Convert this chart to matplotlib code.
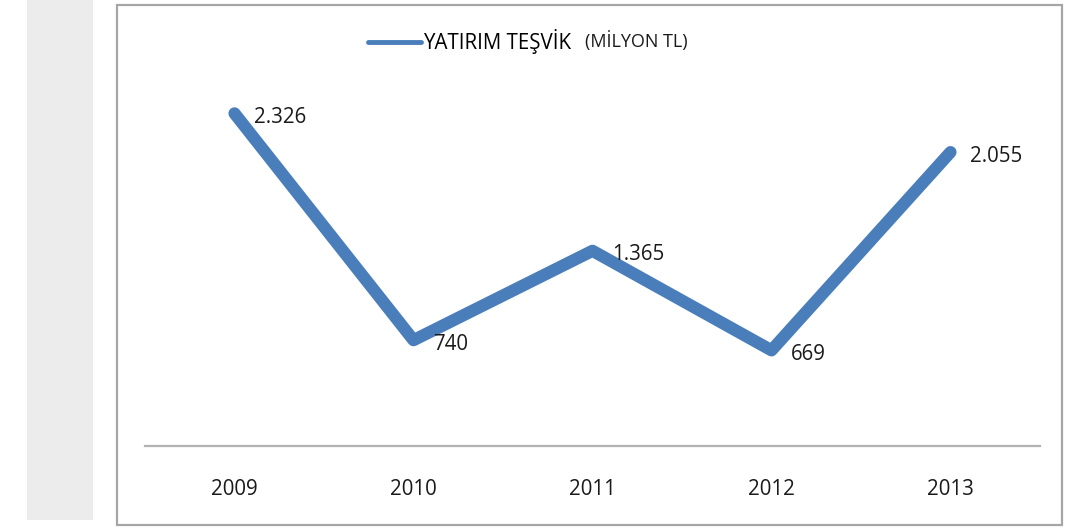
#!/usr/bin/env python3
# yatirim tesvik line chart, 2009-2013
import matplotlib
matplotlib.use("Agg")
import matplotlib.pyplot as plt
from matplotlib.patches import Rectangle

years = ["2009", "2010", "2011", "2012", "2013"]
tesvik = [2326, 740, 1365, 669, 2055]
value_labels = ["2.326", "740", "1.365", "669", "2.055"]
series_name = "YATIRIM TEŞVİK"
unit_name = "(MİLYON TL)"

plt.rcParams['font.family'] = ['Open Sans', 'DejaVu Sans']
blue = '#4a7ebb'
txt = '#1a1a1a'

fig = plt.figure(figsize=(10.66, 5.28), dpi=100)
W, H = 1066.0, 528.0

# grey strip on the left and the chart frame
fig.patches.append(Rectangle((27 / W, 1 - 520 / H), 66 / W, 520 / H,
                             transform=fig.transFigure, facecolor='#ececec',
                             edgecolor='none', zorder=-2))
fig.patches.append(Rectangle((117 / W, 1 - 525 / H), 945 / W, 520 / H,
                             transform=fig.transFigure, facecolor='white',
                             edgecolor='#a6a6a6', linewidth=1.6, zorder=-1))

ax = fig.add_axes([145 / W, 1 - 446 / H, 895 / W, 415 / H])
ax.set_zorder(2)
ax.patch.set_alpha(0)
x = list(range(len(years)))
ax.plot(x, tesvik, color=blue, linewidth=8.8, solid_capstyle='round',
        solid_joinstyle='round', label=series_name)

for xi, v, lab in zip(x, tesvik, value_labels):
    ax.annotate(lab, (xi, v), xytext=(14, -3), textcoords='offset points',
                ha='left', va='center', fontsize=14.8, color=txt)

ax.set_xlim(-0.5, 4.5)
ax.set_ylim(0, 2902)
ax.set_xticks(x)
ax.set_xticklabels(years, fontsize=14.8, color=txt)
ax.tick_params(axis='x', length=0, pad=24)
ax.set_yticks([])
for s in ['top', 'left', 'right']:
    ax.spines[s].set_visible(False)
ax.spines['bottom'].set_color('#b3b3b3')
ax.spines['bottom'].set_linewidth(1.6)

leg = ax.legend(loc='upper left', bbox_to_anchor=(211 / 895, 1.035), frameon=False,
                fontsize=14.8, handlelength=2.55, handletextpad=0.1,
                borderaxespad=0.2)
leg.get_lines()[0].set_linewidth(3.5)

fig.canvas.draw()
bb = leg.get_texts()[0].get_window_extent()
fig.text((bb.x1 + 14) / W, (bb.y0 + bb.y1) / 2 / H, unit_name, fontsize=13,
         ha='left', va='center', color=txt, zorder=3)

fig.savefig("out.png", dpi=100)
